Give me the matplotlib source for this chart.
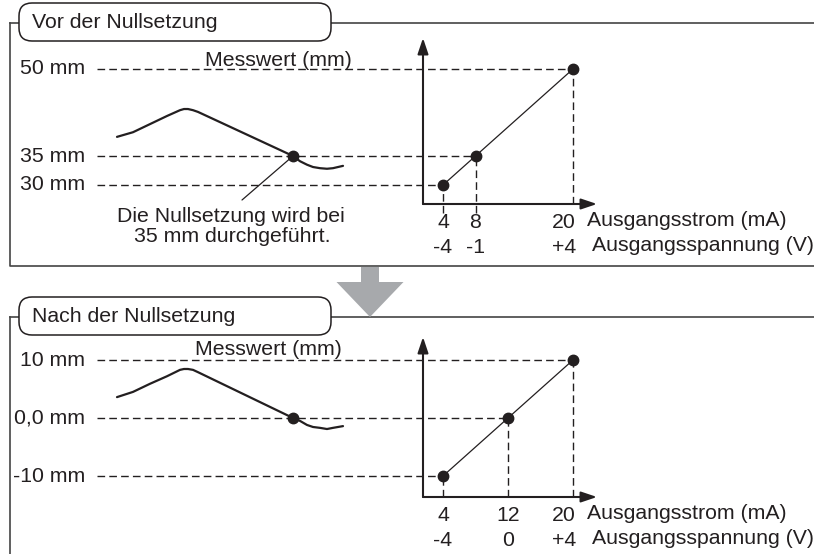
import matplotlib
matplotlib.use('Agg')
import matplotlib.pyplot as plt
from matplotlib.patches import FancyBboxPatch, FancyArrow

plt.rcParams['font.family'] = ['Liberation Sans', 'DejaVu Sans']
plt.rcParams['font.size'] = 15.3

# Data: before zero setting
top_current = [4, 8, 20]                 # mA
top_voltage = ['-4', '-1', '+4']         # V
top_level_mm = [30, 35, 50]              # measured value
top_level_labels = ['30 mm', '35 mm', '50 mm']
top_curve_t = [0, 16, 33, 50, 63, 67, 71, 76, 81, 176, 183, 190, 196, 203, 210, 216, 226]
top_curve_mm = [38.3, 39.1, 40.5, 41.9, 42.9, 43.1, 43.1, 42.9, 42.6, 35.0,
                34.1, 33.5, 33.1, 32.9, 32.8, 32.9, 33.3]

# Data: after zero setting
bot_current = [4, 12, 20]
bot_voltage = ['-4', '0', '+4']
bot_level_mm = [-10, 0, 10]
bot_level_labels = ['-10 mm', '0,0 mm', '10 mm']
bot_curve_t = [0, 16, 33, 50, 63, 67, 71, 76, 81, 176, 183, 190, 196, 203, 210, 216, 226]
bot_curve_mm = [3.6, 4.5, 5.9, 7.2, 8.3, 8.45, 8.45, 8.3, 7.9, 0.0,
                -0.5, -1.2, -1.55, -1.7, -1.9, -1.7, -1.4]

zero_t = 176

INK = '#231f20'
FRAME = '#444444'
W, H = 814, 554
PX_PER_MA = 8.125
PX_PER_MM = 5.8
PT = 72 / 100  # points per pixel
DASH = (0, (5.5, 3))

fig = plt.figure(figsize=(W / 100, H / 100), dpi=100)
base = fig.add_axes([0, 0, 1, 1])
base.set_xlim(0, W)
base.set_ylim(H, 0)
base.axis('off')


def ma_at(px):
    return 4 + (px - 443) / PX_PER_MA


def draw_panel(current, voltage, levels, level_labels, curve_t, curve_mm, zero_mm,
               mm_ref, py_ref, axis_py, top_py, tick_ext, name):
    ax = fig.add_axes([0, 0, 1, 1], label=name)
    ax.patch.set_alpha(0)
    ax.set_xlim(ma_at(0), ma_at(W))
    ax.set_ylim(mm_ref - (H - py_ref) / PX_PER_MM, mm_ref + py_ref / PX_PER_MM)
    ax.axis('off')
    axt = ax.twiny()
    axt.set_xlim(-117, W - 117)
    axt.axis('off')

    def mm_at(py):
        return mm_ref - (py - py_ref) / PX_PER_MM

    x0 = ma_at(423)
    y0 = mm_at(axis_py)
    head = dict(arrowstyle='-|>,head_length=0.95,head_width=0.32', lw=1.5,
                color=INK, mutation_scale=10, shrinkA=0, shrinkB=0)
    ax.annotate('', xy=(ma_at(597), y0), xytext=(x0, y0), arrowprops=head)
    ax.annotate('', xy=(x0, mm_at(top_py)), xytext=(x0, y0), arrowprops=head)

    # dashed guides
    ax.hlines(levels, ma_at(97), current, colors=INK, lw=1.0, linestyles=DASH)
    ends = [y0 - tick_ext / PX_PER_MM] * (len(current) - 1) + [y0]
    ax.vlines(current, ends, levels, colors=INK, lw=1.0, linestyles=DASH)

    # characteristic line
    ax.plot(current, levels, color=INK, lw=0.9)
    ax.plot(current, levels, 'o', color=INK, ms=7.5)

    for lvl, lab in zip(levels, level_labels):
        ax.text(ma_at(85), lvl, lab, ha='right', va='center', color=INK)

    for i, (c, v) in enumerate(zip(current, voltage)):
        last = i == len(current) - 1
        ha = 'right' if last else 'center'
        dx = 3 * PT if last else 0
        ax.annotate(str(c), xy=(c, y0), xytext=(dx, -24 * PT), textcoords='offset points',
                    ha=ha, va='baseline', color=INK)
        ax.annotate(v, xy=(c, y0), xytext=(dx, -49 * PT), textcoords='offset points',
                    ha=ha, va='baseline', color=INK)

    # measured signal over time
    axt.plot(curve_t, curve_mm, color=INK, lw=1.6, solid_capstyle='round',
             solid_joinstyle='round')
    axt.plot([zero_t], [zero_mm], 'o', color=INK, ms=7.5)
    return ax, axt


# frames and titles
for top_y, bottom_y, title in [(23, 266, 'Vor der Nullsetzung'), (317, None, 'Nach der Nullsetzung')]:
    base.plot([10, W], [top_y, top_y], color=FRAME, lw=1.2)
    if bottom_y is None:
        base.plot([10, 10], [top_y, H], color=FRAME, lw=1.2)
    else:
        base.plot([10, 10, W], [top_y, bottom_y, bottom_y], color=FRAME, lw=1.2)
    base.add_patch(FancyBboxPatch((19, top_y - 20), 312, 38,
                                  boxstyle='round,pad=0,rounding_size=13',
                                  fc='white', ec=INK, lw=1.1, zorder=3))
    base.text(32, top_y + 5, title, va='baseline', color=INK, zorder=4)

ax1, axt1 = draw_panel(top_current, top_voltage, top_level_mm, top_level_labels,
                       top_curve_t, top_curve_mm, 35, 30, 185, 204, 38, 9, 'top')
ax2, axt2 = draw_panel(bot_current, bot_voltage, bot_level_mm, bot_level_labels,
                       bot_curve_t, bot_curve_mm, 0, 0, 418, 497, 337, 0, 'bottom')

base.text(278, 66, 'Messwert (mm)', ha='center', va='baseline', color=INK)
base.text(268, 355, 'Messwert (mm)', ha='center', va='baseline', color=INK)

for axis_py in (204, 497):
    base.text(587, axis_py + 22, 'Ausgangsstrom (mA)', va='baseline', color=INK)
    base.text(592, axis_py + 47, 'Ausgangsspannung (V)', va='baseline', color=INK)

# note on the zero point
axt1.annotate('', xy=(zero_t, 35), xytext=(242, 200), textcoords=base.transData,
              arrowprops=dict(arrowstyle='-', lw=0.9, color=INK, shrinkA=0, shrinkB=0))
base.text(231, 222, 'Die Nullsetzung wird bei', ha='center', va='baseline', color=INK)
base.text(232, 242, '35 mm durchgeführt.', ha='center', va='baseline', color=INK)

# grey arrow between the panels
base.add_patch(FancyArrow(370, 267, 0, 50, width=18, head_width=67, head_length=35,
                          length_includes_head=True, color='#a7a9ac', lw=0, zorder=5))

fig.savefig('out.png', dpi=100)
